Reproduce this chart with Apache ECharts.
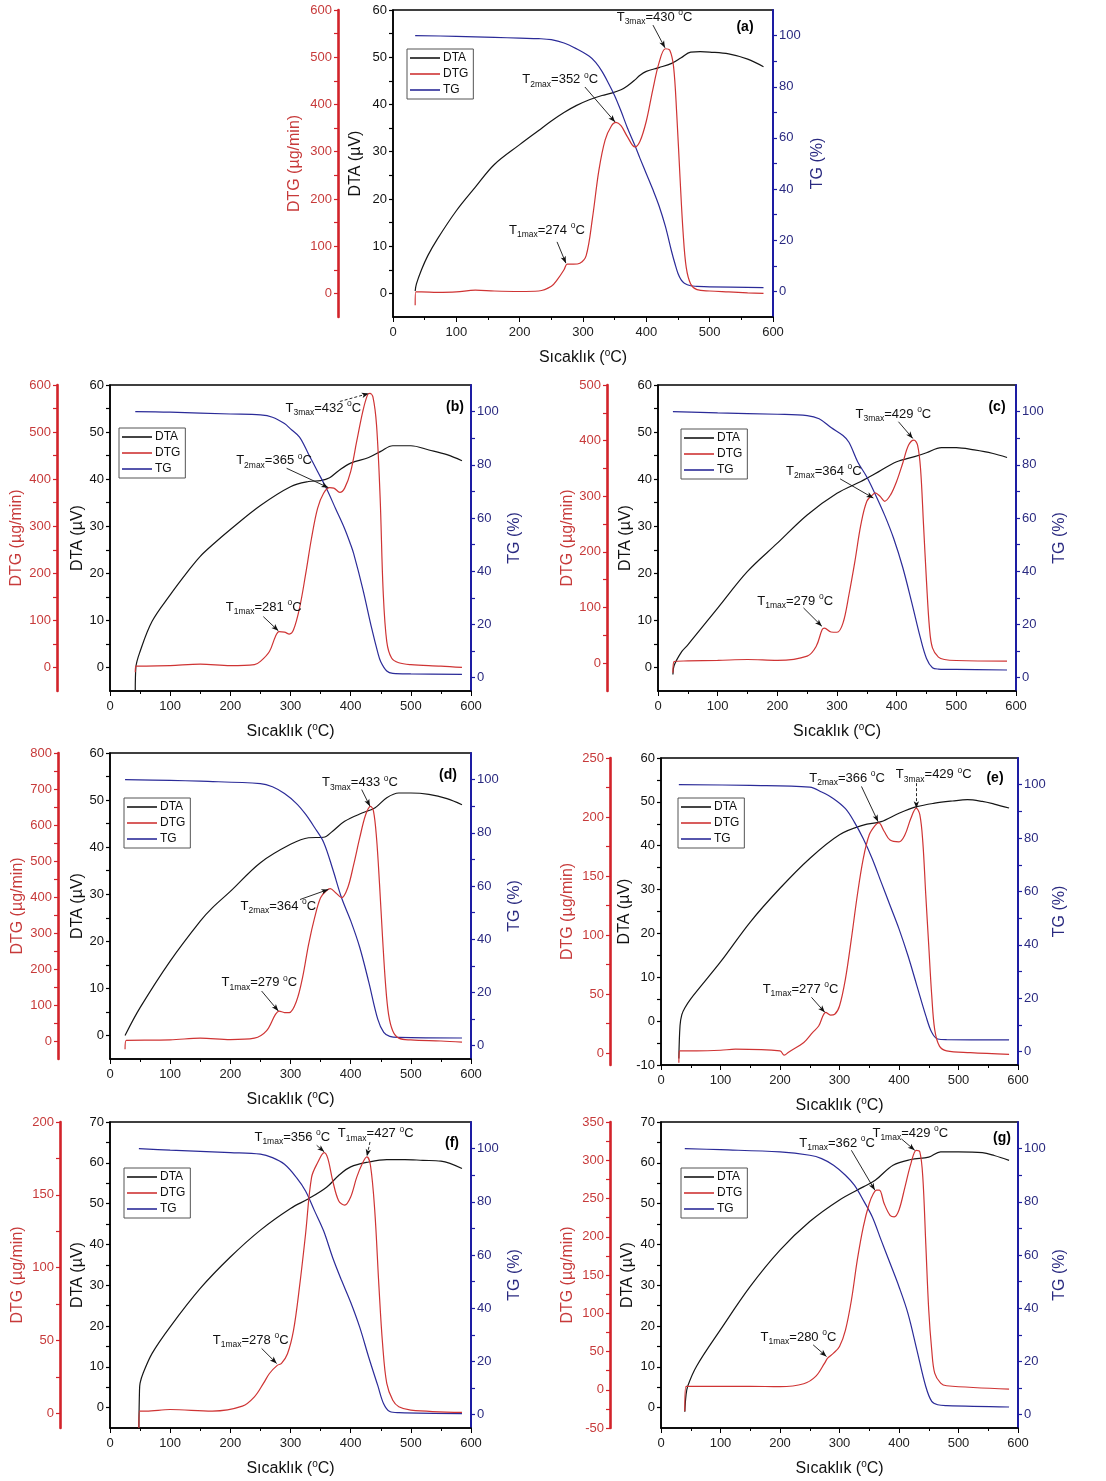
<!DOCTYPE html>
<html>
<head>
<meta charset="utf-8">
<script src="https://cdn.jsdelivr.net/npm/echarts@6/dist/echarts.min.js"></script>
<style>
  html, body { margin: 0; padding: 0; background: #fff; }
  #main { width: 1106px; height: 1481px; }
</style>
</head>
<body>
<div id="main"></div>
<script>
// ---- veriler: [sıcaklık °C, değer] ----
// (a)
var dtaA = [[35,0.5],[37,2],[45,5],[55,8],[70,11.5],[100,17.5],[130,22.5],[160,27.3],[200,31.5],[230,34.5],[250,36.5],[270,38.3],[290,39.8],[310,41],[330,41.9],[345,42.4],[360,43.1],[370,43.9],[382,45.2],[390,46.2],[400,47],[420,47.8],[440,48.7],[455,49.9],[470,51.1],[485,51.2],[500,51.1],[530,50.7],[560,49.6],[585,48]];
var dtgA = [[35,-25],[36,3],[45,3],[70,2],[100,3],[130,7],[160,5],[200,4],[230,5],[250,15],[260,30],[270,50],[275,62],[285,62],[295,64],[305,80],[315,160],[325,260],[335,325],[345,355],[352,362],[360,355],[370,332],[382,310],[390,322],[400,365],[410,430],[420,488],[430,518],[437,515],[443,480],[448,380],[453,250],[458,130],[463,55],[470,20],[480,8],[500,5],[530,3],[560,1],[585,0]];
var tgA = [[35,100],[100,99.7],[160,99.3],[200,99],[230,98.8],[250,98.4],[270,97.1],[290,94.8],[310,91.9],[320,89.5],[330,86],[340,81.5],[350,76.5],[360,70.5],[370,64],[382,57],[390,52],[400,46],[410,40],[420,33.5],[430,25.5],[440,15.5],[445,11],[450,7],[455,4.5],[460,3.2],[470,2.2],[480,2],[500,1.8],[585,1.5]];
// (b)
var dtaB = [[42,-5],[43,0],[50,3.4],[70,9.8],[100,15.4],[130,20.5],[150,23.6],[170,26],[200,29.3],[250,34.4],[300,38.4],[330,39.5],[350,39.7],[365,40.3],[380,41.8],[400,43.4],[430,44.6],[450,45.9],[470,47.1],[500,47.1],[530,46.2],[560,45.2],[585,43.9]];
var dtgB = [[42,-10],[43,3],[60,3],[100,4],[150,7],[200,4],[240,6],[250,13],[265,34],[275,66],[281,76],[290,75],[298,71],[305,80],[315,126],[325,197],[335,275],[345,338],[355,370],[365,382],[372,381],[382,372],[390,381],[400,416],[410,480],[420,543],[428,579],[432,582],[437,575],[443,515],[449,360],[454,162],[460,55],[468,20],[480,10],[500,6],[550,3],[585,0]];
var tgB = [[42,100],[100,99.8],[200,99.1],[250,98.75],[270,97.9],[290,95.5],[300,93.5],[315,90.4],[330,84],[345,77.5],[360,71],[375,63.5],[390,56],[400,50],[405,46.6],[420,33.5],[435,18.5],[445,9.5],[450,6],[460,2.5],[470,1.6],[500,1.4],[585,1.25]];
// (c)
var dtaC = [[25,-1.5],[27,0.4],[40,3.4],[50,4.8],[100,12.6],[150,20.4],[200,26.4],[250,32.4],[300,37],[340,39.5],[350,40.2],[370,41.6],[400,43.7],[430,44.8],[450,45.6],[475,46.7],[500,46.7],[530,46.2],[560,45.5],[585,44.6]];
var dtgC = [[25,-17],[27,3],[50,4],[100,5],[150,6.6],[200,5],[250,12.6],[265,30],[275,60],[279,63],[290,56],[300,55.6],[310,72],[320,123],[330,183],[340,249],[350,291],[360,303],[364,306],[372,300],[380,291],[390,303],[400,327],[410,359],[420,392],[429,401],[435,392],[440,350],[445,249],[450,147],[455,63],[460,27.5],[470,10.8],[480,6.6],[500,4.8],[585,3.6]];
var tgC = [[25,100],[100,99.5],[200,99],[250,98.5],[270,97.3],[290,94],[310,91],[320,88.5],[335,81],[350,75.4],[365,68.5],[380,61],[395,52.3],[410,41.6],[425,28.5],[440,14.75],[450,7.25],[460,3.75],[470,3.25],[500,3.1],[585,2.9]];
// (d)
var dtaD = [[25,0],[50,5.9],[100,15.8],[150,24.3],[170,27.1],[200,30.6],[250,36.7],[300,40.6],[330,42],[355,42.1],[370,43.4],[390,45.5],[420,47.3],[440,48.3],[460,50.5],[480,51.5],[500,51.5],[530,51.2],[560,50.3],[585,49]];
var dtgD = [[25,-23],[27,2],[100,3],[150,8],[200,4],[240,8],[260,28],[275,74],[281,83],[290,79],[298,79],[310,111],[320,176],[330,268],[340,342],[350,398],[360,418],[366,423],[375,412],[385,398],[395,425],[405,490],[415,564],[425,629],[433,652],[438,638],[443,564],[448,435],[453,287],[458,157],[463,74],[470,28],[480,8],[500,3],[550,0],[585,-3]];
var tgD = [[25,100],[100,99.7],[150,99.4],[250,98.5],[270,97.3],[290,94.75],[310,91],[325,87],[340,82],[355,76.5],[370,66.5],[385,55.5],[400,47],[415,37],[430,24],[445,10],[455,5],[465,3.5],[480,3.1],[585,2.9]];
// (e)
var dtaE = [[30,-8.5],[32,-1],[35,1.5],[40,3],[50,5.1],[100,13.5],[150,22.6],[200,30.3],[250,37.1],[300,42.5],[340,44.7],[370,45.5],[400,47.4],[430,48.9],[460,49.7],[490,50.2],[515,50.5],[540,50.1],[560,49.5],[585,48.6]];
var dtgE = [[30,-8],[31,2],[60,2],[100,2.5],[125,3.4],[200,2],[207,-1.7],[215,1.1],[240,9],[255,17.6],[265,23],[277,34.6],[285,32.3],[292,33],[300,40],[310,63],[320,97],[330,134],[340,165],[350,185],[360,193],[366,195],[375,188],[385,180.5],[400,179],[410,185],[420,199],[429,207.5],[435,202],[440,179],[445,134],[450,91],[455,49],[460,20],[468,6],[480,2],[520,0.5],[585,-1]];
var tgE = [[30,100],[150,99.75],[250,99.1],[270,97.25],[290,94.75],[310,91],[325,86],[340,79.75],[355,72.25],[370,63.5],[385,54.75],[400,46],[415,36],[430,24.75],[445,13.5],[455,7.25],[465,4.75],[480,4.5],[585,4.4]];
// (f)
var dtaF = [[48,-5],[49,4],[50,6],[55,8.4],[70,13.3],[100,19.8],[150,29.2],[200,36.9],[250,43.5],[300,48.8],[330,51.2],[360,54],[380,56.9],[400,59],[430,60.2],[460,60.8],[490,60.8],[520,60.6],[550,60.4],[585,58.6]];
var dtgF = [[48,-10],[49,1.6],[60,1.6],[100,2.7],[170,1.6],[220,5],[240,11.4],[255,20.6],[265,27.4],[278,33],[285,34.3],[295,41],[305,57],[315,87],[325,123],[335,162],[345,172],[356,179],[362,175],[370,160],[380,146],[390,143],[400,148.6],[410,162],[420,172],[427,176],[433,170],[440,139.4],[447,87],[453,48],[460,20.6],[470,9],[480,4.6],[500,2.3],[585,0.7]];
var tgF = [[48,100],[100,99.4],[200,98.5],[250,97.9],[270,96.6],[290,94.1],[310,89.1],[325,84.1],[340,76.6],[355,69.1],[370,59.1],[385,50.4],[400,42.25],[415,32.9],[430,21.6],[445,11],[455,4],[465,1.2],[480,0.75],[585,0.4]];
// (g)
var dtaG = [[40,-1],[42,3],[45,5.3],[60,10.2],[100,19.1],[150,29.7],[200,38.6],[250,45.6],[300,50.9],[340,54.1],[360,55.7],[390,59.4],[420,60.8],[450,61.4],[470,62.7],[500,62.7],[540,62.5],[560,61.8],[585,60.6]];
var dtgG = [[40,-28],[42,4.3],[100,4.3],[150,4.5],[200,4],[240,7.8],[260,17.4],[275,34.8],[280,41.3],[290,47.8],[300,56.5],[310,78],[320,117],[330,170],[340,213],[350,243.5],[357,256.5],[362,261],[367,261],[375,243.5],[385,228],[392,226],[400,235],[410,265],[420,295.6],[429,313],[435,311],[440,278],[445,191],[450,104],[455,52],[460,21.7],[470,8.7],[480,5.2],[585,0.9]];
var tgG = [[40,100],[100,99.6],[200,98.75],[250,97.5],[270,96.25],[290,93.75],[310,90],[325,86.25],[340,80.6],[355,74.4],[370,65.6],[385,56.9],[400,48.1],[415,38.1],[430,24.4],[445,10.6],[455,5],[465,3.75],[480,3.4],[585,2.9]];

// ---- tepe etiketleri: yazı, ok başı/sonu (DTG ekseninde) ----
var notesA = [
  { lab: '3max', val: '430', text: [413, 585], from: [410.5, 568], to: [429.4, 520] },
  { lab: '2max', val: '352', text: [264, 452], from: [303, 437], to: [350.6, 363] },
  { lab: '1max', val: '274', text: [243, 134], from: [259, 109], to: [273, 64] }
];
var notesB = [
  { lab: '3max', val: '432', text: [354.6, 550.6], from: [382, 565], to: [430, 582], dash: true },
  { lab: '2max', val: '365', text: [272.6, 438.8], from: [293.6, 423], to: [362.9, 382] },
  { lab: '1max', val: '281', text: [255.4, 128], from: [254.8, 108], to: [279.8, 77.8] }
];
var notesC = [
  { lab: '3max', val: '429', text: [394.5, 447.4], from: [403, 434], to: [427, 404] },
  { lab: '2max', val: '364', text: [277.9, 344.5], from: [305.2, 331.3], to: [361, 296.7] },
  { lab: '1max', val: '279', text: [229.9, 111.2], from: [243.9, 99.3], to: [274.6, 66.4] }
];
var notesD = [
  { lab: '3max', val: '433', text: [415.5, 717], from: [418.3, 698.4], to: [432.1, 652] },
  { lab: '2max', val: '364', text: [279.8, 374.7], from: [315.8, 393], to: [362.9, 421] },
  { lab: '1max', val: '279', text: [248.2, 162], from: [252, 138.8], to: [279.8, 83.3] }
];
var notesE = [
  { lab: '2max', val: '366', text: [312.8, 233], from: [336.9, 225.9], to: [364.9, 196] },
  { lab: '3max', val: '429', text: [458.3, 235.8], from: [429.2, 228.7], to: [429.2, 207.5], dash: true },
  { lab: '1max', val: '277', text: [234.5, 54.4], from: [252.9, 47.3], to: [275.3, 34.6] }
];
var notesF = [
  { lab: '1max', val: '356', text: [303, 189.7], from: [343.5, 184], to: [356, 179.5] },
  { lab: '1max', val: '427', text: [441.6, 192], from: [432.1, 186.3], to: [427, 176.5], dash: true },
  { lab: '1max', val: '278', text: [233.8, 50.3], from: [252, 44.6], to: [277, 34.3] }
];
var notesG = [
  { lab: '1max', val: '362', text: [296, 321.7], from: [320, 313], to: [359.3, 261] },
  { lab: '1max', val: '429', text: [419, 334.8], from: [404, 328], to: [426.4, 313] },
  { lab: '1max', val: '280', text: [231, 68.3], from: [255.7, 58.7], to: [278.1, 43.5] }
];

// ---- eksen etiketleri ----
var xTicks = [0, 100, 200, 300, 400, 500, 600];
var tgTicks = [0, 20, 40, 60, 80, 100];
var dtaTicks60 = [0, 10, 20, 30, 40, 50, 60];
var dtaTicksE = [-10, 0, 10, 20, 30, 40, 50, 60];
var dtaTicks70 = [0, 10, 20, 30, 40, 50, 60, 70];
var dtgTicks600 = [0, 100, 200, 300, 400, 500, 600];
var dtgTicks500 = [0, 100, 200, 300, 400, 500];
var dtgTicks800 = [0, 100, 200, 300, 400, 500, 600, 700, 800];
var dtgTicks250 = [0, 50, 100, 150, 200, 250];
var dtgTicks200 = [0, 50, 100, 150, 200];
var dtgTicks350 = [-50, 0, 50, 100, 150, 200, 250, 300, 350];

var FONT = '"Liberation Sans", Arial, sans-serif';
var C_DTA = '#161616', C_DTG = '#cf3434', C_TG = '#2b2b98';
var C_DTG_AX = '#d2232a', C_TG_AX = '#1d1da3';

// panel yerleşimi
var panels = [
  { tag: '(a)', dta: dtaA, dtg: dtgA, tg: tgA, notes: notesA, box: [393, 10, 380, 307], dtaR: [-5, 60], dtaT: dtaTicks60, dtgR: [-50, 600], dtgT: dtgTicks600, dtgStep: 50, tgR: [-10, 110], off: 55, gaps: [29, 35, 37], lg: [407, 49], tp: [745, 27] },
  { tag: '(b)', dta: dtaB, dtg: dtgB, tg: tgB, notes: notesB, box: [110, 385, 361, 306], dtaR: [-5, 60], dtaT: dtaTicks60, dtgR: [-50, 600], dtgT: dtgTicks600, dtgStep: 50, tgR: [-5, 110], off: 53, gaps: [24, 32, 36], lg: [119, 428], tp: [455, 407] },
  { tag: '(c)', dta: dtaC, dtg: dtgC, tg: tgC, notes: notesC, box: [658, 385, 358, 306], dtaR: [-5, 60], dtaT: dtaTicks60, dtgR: [-50, 500], dtgT: dtgTicks500, dtgStep: 50, tgR: [-5, 110], off: 51, gaps: [24, 31, 36], lg: [681, 429], tp: [997, 407] },
  { tag: '(d)', dta: dtaD, dtg: dtgD, tg: tgD, notes: notesD, box: [110, 753, 361, 306], dtaR: [-5, 60], dtaT: dtaTicks60, dtgR: [-50, 800], dtgT: dtgTicks800, dtgStep: 50, tgR: [-5, 110], off: 52, gaps: [24, 32, 36], lg: [124, 798], tp: [448, 775] },
  { tag: '(e)', dta: dtaE, dtg: dtgE, tg: tgE, notes: notesE, box: [661, 758, 357, 307], dtaR: [-10, 60], dtaT: dtaTicksE, dtgR: [-10, 250], dtgT: dtgTicks250, dtgStep: 25, tgR: [-5, 110], off: 51, gaps: [24, 34, 34], lg: [678, 798], tp: [995, 778] },
  { tag: '(f)', dta: dtaF, dtg: dtgF, tg: tgF, notes: notesF, box: [110, 1122, 361, 306], dtaR: [-5, 70], dtaT: dtaTicks70, dtgR: [-10, 200], dtgT: dtgTicks200, dtgStep: 25, tgR: [-5, 110], off: 50, gaps: [24, 34, 36], lg: [124, 1168], tp: [452, 1143] },
  { tag: '(g)', dta: dtaG, dtg: dtgG, tg: tgG, notes: notesG, box: [661, 1122, 357, 306], dtaR: [-5, 70], dtaT: dtaTicks70, dtgR: [-50, 350], dtgT: dtgTicks350, dtgStep: 25, tgR: [-5, 110], off: 51, gaps: [25, 34, 34], lg: [681, 1168], tp: [1002, 1138] }
];

// ara çentikler için basit yardımcı
function steps(a, b, s) {
  var r = [];
  for (var v = a; v <= b + 1e-9; v += s) r.push(+v.toFixed(3));
  return r;
}

var supRich = {
  t: { fontSize: 13, fontFamily: FONT, color: '#111' },
  s: { fontSize: 8.5, fontFamily: FONT, color: '#111', padding: [9, 0, 0, 0] },
  o: { fontSize: 8.5, fontFamily: FONT, color: '#111', padding: [0, 0, 9, 0] }
};

function yAxisBase(i, color, lineW, labColor) {
  return {
    type: 'value', gridIndex: i, splitLine: { show: false },
    axisLine: { show: true, onZero: false, lineStyle: { color: color, width: lineW } },
    axisTick: { show: true, length: 4, lineStyle: { color: color, width: 1.2 } },
    axisLabel: { color: labColor, fontSize: 13, fontFamily: FONT, margin: 6 },
    nameLocation: 'middle', nameRotate: 90,
    nameTextStyle: { color: labColor, fontSize: 16, fontFamily: FONT }
  };
}

var option = {
  animation: false,
  backgroundColor: '#fff',
  grid: [], xAxis: [], yAxis: [], series: [], legend: [], graphic: []
};

panels.forEach(function(p, i) {
  option.grid.push({
    left: p.box[0], top: p.box[1], width: p.box[2], height: p.box[3],
    show: true, borderColor: '#000', borderWidth: 1.5
  });

  option.xAxis.push({
    type: 'value', gridIndex: i, min: 0, max: 600, interval: 100,
    splitLine: { show: false },
    axisLine: { onZero: false, lineStyle: { color: '#000', width: 1.5 } },
    axisTick: { length: 5, lineStyle: { color: '#000' } },
    minorTick: { show: true, splitNumber: 2, length: 3, lineStyle: { color: '#000' } },
    axisLabel: { color: '#222', fontSize: 13, fontFamily: FONT, margin: 9,
      customValues: xTicks },
    name: 'Sıcaklık ({o|o}C)', nameLocation: 'middle', nameGap: 31,
    nameTextStyle: { color: '#111', fontSize: 16, fontFamily: FONT,
      rich: { o: { fontSize: 10, fontFamily: FONT, color: '#111', padding: [0, 0, 9, 0] } } }
  });

  // DTA (sol, siyah)
  var ya = yAxisBase(i, '#000', 1.5, '#111');
  ya.position = 'left';
  ya.min = p.dtaR[0]; ya.max = p.dtaR[1];
  ya.axisLabel.customValues = p.dtaT;
  ya.axisTick.customValues = steps(p.dtaT[0], p.dtaR[1], 5);
  ya.name = 'DTA (µV)'; ya.nameGap = p.gaps[0];
  option.yAxis.push(ya);

  // DTG (sol, kırmızı, kaydırılmış)
  var yg = yAxisBase(i, C_DTG_AX, 2.6, '#c73a3a');
  yg.position = 'left'; yg.offset = p.off;
  yg.min = p.dtgR[0]; yg.max = p.dtgR[1];
  yg.axisLabel.customValues = p.dtgT;
  yg.axisTick.customValues = steps(p.dtgT[0], p.dtgR[1], p.dtgStep);
  yg.name = 'DTG (µg/min)'; yg.nameGap = p.gaps[1];
  option.yAxis.push(yg);

  // TG (sağ, mavi)
  var yt = yAxisBase(i, C_TG_AX, 2, '#2a2a80');
  yt.position = 'right';
  yt.min = p.tgR[0]; yt.max = p.tgR[1];
  yt.axisLabel.customValues = tgTicks;
  yt.axisTick.customValues = steps(0, 100, 10);
  yt.name = 'TG (%)'; yt.nameGap = p.gaps[2];
  option.yAxis.push(yt);

  var arrows = p.notes.map(function(n) {
    return [
      { coord: n.from, lineStyle: { type: n.dash ? [3, 2] : 'solid' } },
      { coord: n.to }
    ];
  });
  var texts = p.notes.map(function(n) {
    return {
      coord: n.text,
      label: { formatter: '{t|T}{s|' + n.lab + '}{t|=' + n.val + ' }{o|o}{t|C}' }
    };
  });

  option.series.push({
    name: 'DTA', type: 'line', xAxisIndex: i, yAxisIndex: 3 * i,
    data: p.dta, symbol: 'none', smooth: 0.35,
    lineStyle: { color: C_DTA, width: 1.2 }, itemStyle: { color: C_DTA }, z: 3
  });
  option.series.push({
    name: 'DTG', type: 'line', xAxisIndex: i, yAxisIndex: 3 * i + 1,
    data: p.dtg, symbol: 'none', smooth: 0.35,
    lineStyle: { color: C_DTG, width: 1.2 }, itemStyle: { color: C_DTG }, z: 4,
    markLine: {
      silent: true, symbol: ['none', 'arrow'], symbolSize: [4, 7],
      label: { show: false },
      lineStyle: { color: '#111', width: 0.9 },
      emphasis: { disabled: true },
      data: arrows
    },
    markPoint: {
      silent: true, symbol: 'circle', symbolSize: 0,
      itemStyle: { color: 'transparent' },
      label: { show: true, position: 'inside', color: '#111', rich: supRich },
      data: texts
    }
  });
  option.series.push({
    name: 'TG', type: 'line', xAxisIndex: i, yAxisIndex: 3 * i + 2,
    data: p.tg, symbol: 'none', smooth: 0.35,
    lineStyle: { color: C_TG, width: 1.2 }, itemStyle: { color: C_TG }, z: 3
  });

  option.legend.push({
    data: ['DTA', 'DTG', 'TG'], orient: 'vertical',
    left: p.lg[0], top: p.lg[1],
    icon: 'rect', itemWidth: 30, itemHeight: 1.6, itemGap: 4, padding: [3, 5, 3, 3],
    borderColor: '#555', borderWidth: 1, selectedMode: false,
    textStyle: { fontSize: 12, lineHeight: 12, fontFamily: FONT, color: '#111', padding: [0, 0, 0, -2] }
  });

  option.graphic.push({
    type: 'text', x: p.tp[0], y: p.tp[1], silent: true,
    style: { text: p.tag, font: 'bold 14px ' + FONT, fill: '#000', align: 'center', verticalAlign: 'middle' }
  });
});

var myChart = echarts.init(document.getElementById('main'));
myChart.setOption(option);
window.addEventListener('resize', function() {
  myChart.resize();
});
</script>
</body>
</html>
